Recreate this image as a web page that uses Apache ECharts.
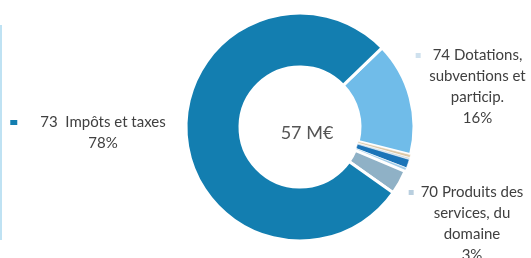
<!DOCTYPE html>
<html>
<head>
<meta charset="utf-8">
<script src="https://cdn.jsdelivr.net/npm/echarts@6/dist/echarts.min.js"></script>
<style>html,body{margin:0;padding:0;background:#fff}#c{width:531px;height:258px}</style>
</head>
<body>
<div id="c"></div>
<script>
// Data (M€), clockwise order starting from upper right
const categories = [
  "74 Dotations,\nsubventions et\nparticip.",
  "013 Atténuations de charges",
  "75 Autres produits de gestion courante",
  "77 Produits exceptionnels",
  "76 Produits financiers",
  "70 Produits des\nservices, du\ndomaine",
  "73  Impôts et taxes"
];
const values = [9.2, 0.25, 0.15, 0.7, 0.3, 1.95, 44.5];
const showLabel = [true, false, false, false, false, true, true];

const colors = ['#70bce9', '#dcc8a8', '#c9d6de', '#1b74b8', '#9fcbe8', '#8fb1c6', '#137eb0'];
const borders = [3, 0.6, 0.6, 0.6, 0.6, 3, 3];
const labelPos = {0: [469, 45], 5: [466, 182], 6: [88, 112]};
const markerKey = {0: 'a', 5: 'b', 6: 'c'};

const total = values.reduce((a, b) => a + b, 0);
const chart = echarts.init(document.getElementById('c'));

const data = categories.map((n, i) => ({
  name: n, value: values[i],
  itemStyle: {color: colors[i], borderColor: '#fff', borderWidth: borders[i]},
  label: {show: showLabel[i]}
}));

const txt = {fontFamily: 'Lato', fontSize: 15, color: '#404040', lineHeight: 21};
chart.setOption({
  animation: false,
  title: {
    text: Math.round(total) + ' M€', left: 302, top: 128,
    textAlign: 'center', textVerticalAlign: 'middle',
    textStyle: {fontFamily: 'Lato', fontSize: 18, fontWeight: 'normal', color: '#555555'}
  },
  graphic: [{type: 'rect', shape: {x: 0, y: 25, width: 2, height: 215}, style: {fill: '#bfe2f3'}}],
  series: [{
    type: 'pie',
    center: [300, 127],
    radius: [60, 114],
    startAngle: 44,
    clockwise: true,
    avoidLabelOverlap: false,
    labelLine: {show: false},
    label: {
      position: 'outside',
      align: 'center',
      formatter: function (p) {
        const k = markerKey[p.dataIndex];
        const lines = p.name.split('\n').concat([Math.round(p.percent) + '%']);
        return lines.map((l, j) => j === 0
          ? '{m' + k + '| }{g' + k + '| }{t|' + l + '}'
          : '{s' + k + '| }{t|' + l + '}').join('\n');
      },
      rich: {
        t: txt,
        ma: {width: 5, height: 5, backgroundColor: '#cfe1ee', lineHeight: 21},
        ga: {width: 12, lineHeight: 21},
        sa: {width: 17, lineHeight: 21},
        mb: {width: 5, height: 5, backgroundColor: '#b9cfdf', lineHeight: 21},
        gb: {width: 7, lineHeight: 21},
        sb: {width: 12, lineHeight: 21},
        mc: {width: 7, height: 5, backgroundColor: '#137eb0', lineHeight: 21},
        gc: {width: 23, lineHeight: 21},
        sc: {width: 30, lineHeight: 21}
      }
    },
    labelLayout: function (params) {
      const p = labelPos[params.dataIndex];
      if (!p) return {};
      return {x: p[0], y: p[1], align: 'center', verticalAlign: 'top'};
    },
    data: data
  }]
});
</script>
</body>
</html>
